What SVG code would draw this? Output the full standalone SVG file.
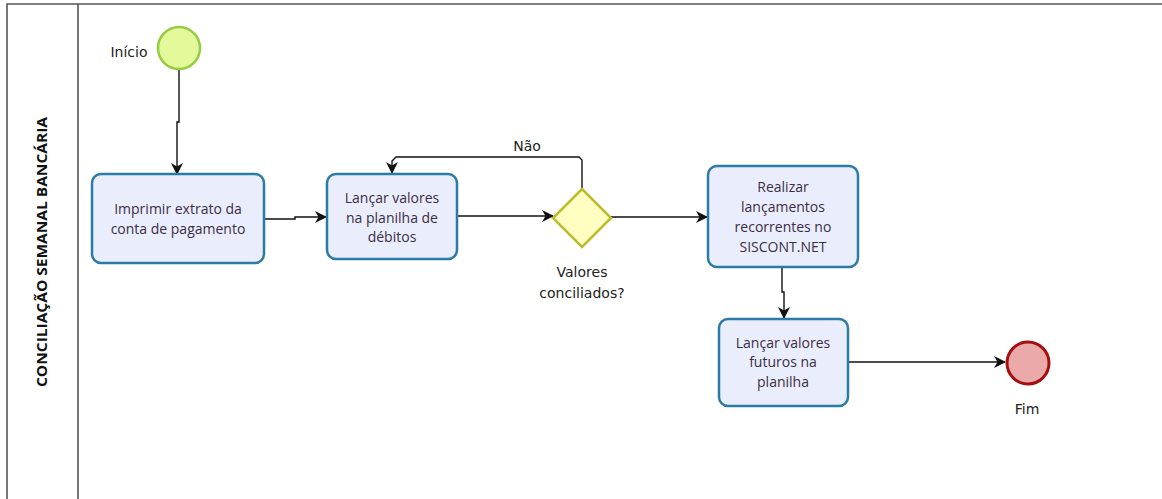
<svg xmlns="http://www.w3.org/2000/svg" width="1162" height="499" viewBox="0 0 1162 499">
<style>
.pool{fill:none;stroke:#555;stroke-width:1.6}
.task rect{fill:#eaeefc;stroke:#2a7ba5;stroke-width:2.5}
.task text{font-family:"Open Sans","Noto Sans",sans-serif;font-size:14px;fill:#3a2d45;text-anchor:middle}
.lbl{font-family:"DejaVu Sans",sans-serif;font-size:14px;fill:#222;text-anchor:middle}
.conn path{fill:none;stroke:#111;stroke-width:1.4}
.lane{font-family:"Open Sans","Noto Sans",sans-serif;font-size:15px;font-weight:bold;fill:#111;text-anchor:middle}
</style>
<defs>
<marker id="arr" viewBox="0 0 12 12" refX="11" refY="6" markerWidth="12" markerHeight="12" markerUnits="userSpaceOnUse" orient="auto">
<path d="M0,0 L12,6 L0,12 L3.5,6 Z" fill="#111"/>
</marker>
</defs>
<rect width="1162" height="499" fill="#fff"/>
<g id="pool">
<path class="pool" d="M1170,4 H7 V510 M78,4 V510"/>
<text class="lane" transform="translate(47,252) rotate(-90)" textLength="270" lengthAdjust="spacingAndGlyphs">CONCILIAÇÃO SEMANAL BANCÁRIA</text>
</g>
<g class="conn" id="connectors">
<path d="M179,70 V122 H177 V174" marker-end="url(#arr)"/>
<path d="M264,219 H295 V217 H326" marker-end="url(#arr)"/>
<path d="M457,216 H553" marker-end="url(#arr)"/>
<path d="M582,189 V160 L579,157 H396 L392,161 V173" marker-end="url(#arr)"/>
<path d="M611,217 H707" marker-end="url(#arr)"/>
<path d="M782,267 V292 H784 V318" marker-end="url(#arr)"/>
<path d="M848,362 H1005" marker-end="url(#arr)"/>
</g>
<g id="start">
<circle cx="179" cy="48" r="21" fill="#e4fa9a" stroke="#93cd3d" stroke-width="2.5"/>
<text class="lbl" x="129" y="57">Início</text>
</g>
<g id="task1" class="task">
<rect x="92" y="174" width="172" height="89" rx="9"/>
<text x="178" y="214">Imprimir extrato da</text>
<text x="178" y="234">conta de pagamento</text>
</g>
<g id="task2" class="task">
<rect x="327" y="174" width="130" height="85" rx="9"/>
<text x="392" y="203">Lançar valores</text>
<text x="392" y="223">na planilha de</text>
<text x="392" y="242">débitos</text>
</g>
<g id="gateway">
<path d="M582,189 L611,218 L582,247 L553,218 Z" fill="#ffffc2" stroke="#bcbc2c" stroke-width="2.5"/>
<text class="lbl" x="582" y="277">Valores</text>
<text class="lbl" x="582" y="298">conciliados?</text>
<text class="lbl" x="527" y="151">Não</text>
</g>
<g id="task3" class="task">
<rect x="708" y="166" width="150" height="101" rx="9"/>
<text x="783" y="192">Realizar</text>
<text x="783" y="212">lançamentos</text>
<text x="783" y="232">recorrentes no</text>
<text x="783" y="252">SISCONT.NET</text>
</g>
<g id="task4" class="task">
<rect x="719" y="319" width="129" height="87" rx="9"/>
<text x="783" y="348">Lançar valores</text>
<text x="783" y="367">futuros na</text>
<text x="783" y="387">planilha</text>
</g>
<g id="end">
<circle cx="1028" cy="363" r="21" fill="#eba9a9" stroke="#a21010" stroke-width="3"/>
<text class="lbl" x="1027" y="414">Fim</text>
</g>
</svg>
